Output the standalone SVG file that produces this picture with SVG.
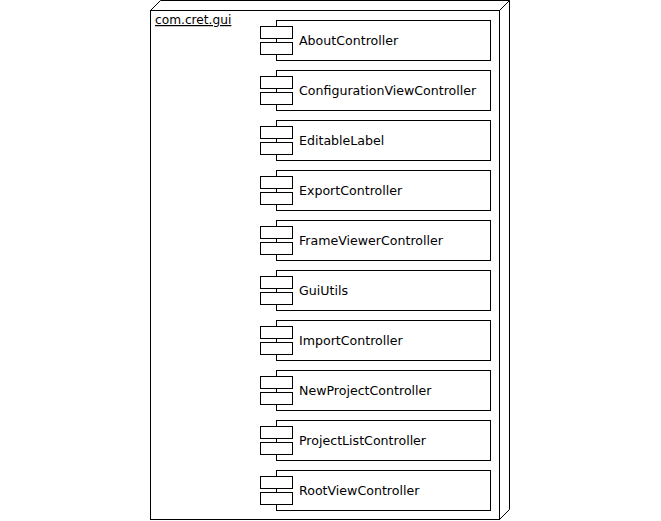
<svg xmlns="http://www.w3.org/2000/svg" width="661" height="521" viewBox="0 0 661 521">
<style>
.l{fill:none;stroke:#000;stroke-width:1}
.f{fill:#fff;stroke:#000;stroke-width:1}
.t{font-family:"DejaVu Sans",Verdana,sans-serif;font-size:12.6px;fill:#000}
.p{font-family:"DejaVu Sans",Verdana,sans-serif;font-size:12.2px;fill:#000;text-decoration:underline}
</style>
<defs>
<g id="comp">
<rect class="f" x="276.5" y="0.5" width="214" height="40"/>
<rect class="f" x="260.5" y="6.5" width="32" height="12"/>
<rect class="f" x="260.5" y="22.5" width="32" height="12"/>
</g>
</defs>
<rect width="661" height="521" fill="#fff"/>
<g id="package">
<path class="f" d="M150.5,10.5 L160.5,0.5 L509.5,0.5 L509.5,509.5 L499.5,519.5 Z"/>
<rect class="f" x="150.5" y="10.5" width="349" height="509"/>
<path class="l" d="M499.5,10.5 L509.5,0.5"/>
<text class="p" x="155" y="24">com.cret.gui</text>
</g>
<g id="AboutController"><use href="#comp" y="20"/><text class="t" x="299" y="44.5">AboutController</text></g>
<g id="ConfigurationViewController"><use href="#comp" y="70"/><text class="t" x="299" y="94.5">ConfigurationViewController</text></g>
<g id="EditableLabel"><use href="#comp" y="120"/><text class="t" x="299" y="144.5">EditableLabel</text></g>
<g id="ExportController"><use href="#comp" y="170"/><text class="t" x="299" y="194.5">ExportController</text></g>
<g id="FrameViewerController"><use href="#comp" y="220"/><text class="t" x="299" y="244.5">FrameViewerController</text></g>
<g id="GuiUtils"><use href="#comp" y="270"/><text class="t" x="299" y="294.5">GuiUtils</text></g>
<g id="ImportController"><use href="#comp" y="320"/><text class="t" x="299" y="344.5">ImportController</text></g>
<g id="NewProjectController"><use href="#comp" y="370"/><text class="t" x="299" y="394.5">NewProjectController</text></g>
<g id="ProjectListController"><use href="#comp" y="420"/><text class="t" x="299" y="444.5">ProjectListController</text></g>
<g id="RootViewController"><use href="#comp" y="470"/><text class="t" x="299" y="494.5">RootViewController</text></g>
<g id="connectors"/>
</svg>
